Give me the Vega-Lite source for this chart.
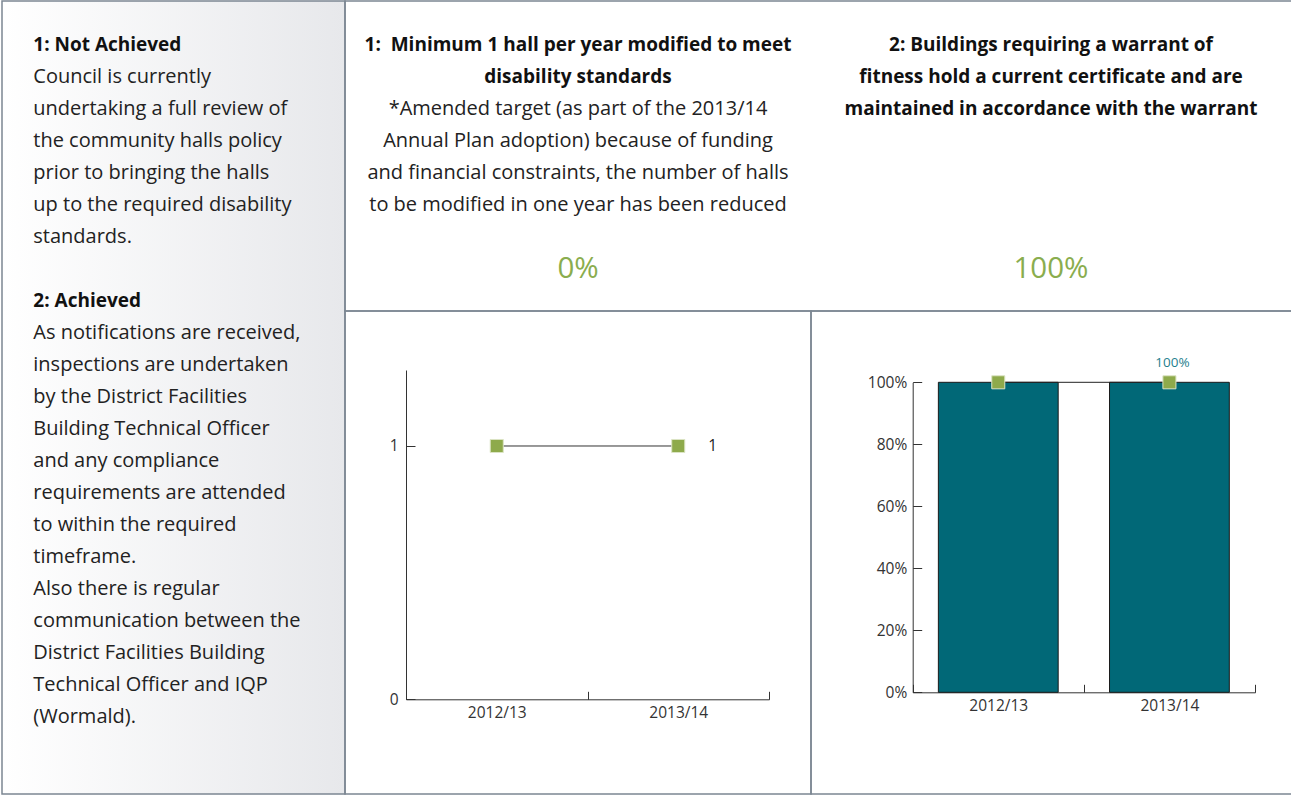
{
  "$schema": "https://vega.github.io/schema/vega-lite/v6.json",
  "background": "white",
  "padding": {"left": 1, "top": 0, "right": -2, "bottom": 1},
  "spacing": 0,
  "bounds": "flush",
  "config": {
    "view": {"stroke": "#7c8792", "strokeWidth": 1.5},
    "font": "Open Sans",
    "text": {"font": "Open Sans"},
    "axis": {
      "labelFont": "Open Sans", "labelFontSize": 15.5, "labelColor": "#333333",
      "domainColor": "#333333", "tickColor": "#333333", "domainWidth": 1, "tickWidth": 1,
      "grid": false, "title": null, "labelAngle": 0
    }
  },
  "hconcat": [
    {
      "width": 343,
      "height": 793,
      "view": {"fill": {"gradient": "linear", "x1": 0, "y1": 0, "x2": 1, "y2": 0, "stops": [{"offset": 0, "color": "#ffffff"}, {"offset": 1, "color": "#e7e8eb"}]}},
      "data": {"values": [
        {"line": 0, "kind": "heading", "text": "1: Not Achieved"},
        {"line": 1, "kind": "body", "text": "Council is currently"},
        {"line": 2, "kind": "body", "text": "undertaking a full review of"},
        {"line": 3, "kind": "body", "text": "the community halls policy"},
        {"line": 4, "kind": "body", "text": "prior to bringing the halls"},
        {"line": 5, "kind": "body", "text": "up to the required disability"},
        {"line": 6, "kind": "body", "text": "standards."},
        {"line": 8, "kind": "heading", "text": "2: Achieved"},
        {"line": 9, "kind": "body", "text": "As notifications are received,"},
        {"line": 10, "kind": "body", "text": "inspections are undertaken"},
        {"line": 11, "kind": "body", "text": "by the District Facilities"},
        {"line": 12, "kind": "body", "text": "Building Technical Officer"},
        {"line": 13, "kind": "body", "text": "and any compliance"},
        {"line": 14, "kind": "body", "text": "requirements are attended"},
        {"line": 15, "kind": "body", "text": "to within the required"},
        {"line": 16, "kind": "body", "text": "timeframe."},
        {"line": 17, "kind": "body", "text": "Also there is regular"},
        {"line": 18, "kind": "body", "text": "communication between the"},
        {"line": 19, "kind": "body", "text": "District Facilities Building"},
        {"line": 20, "kind": "body", "text": "Technical Officer and IQP"},
        {"line": 21, "kind": "body", "text": "(Wormald)."}
      ]},
      "encoding": {
        "y": {"field": "line", "type": "quantitative", "scale": {"domain": [0, 1], "range": [44, 76], "zero": false, "nice": false}, "axis": null},
        "text": {"field": "text"}
      },
      "layer": [
        {"transform": [{"filter": "datum.kind == 'heading'"}], "mark": {"type": "text", "align": "left", "baseline": "middle", "dx": -140.2, "fontSize": 19, "fontWeight": "bold", "color": "#111111"}},
        {"transform": [{"filter": "datum.kind == 'body'"}], "mark": {"type": "text", "align": "left", "baseline": "middle", "dx": -140.2, "fontSize": 20, "color": "#222222"}}
      ]
    },
    {
      "spacing": 0,
      "bounds": "flush",
      "vconcat": [
        {
          "width": 947,
          "height": 310,
          "data": {"values": [
            {"kpi": "1", "line": 0, "kind": "heading", "text": "1:\u00a0 Minimum 1 hall per year modified to meet"},
            {"kpi": "1", "line": 1, "kind": "heading", "text": "disability standards"},
            {"kpi": "1", "line": 2, "kind": "note", "text": "*Amended target (as part of the 2013/14"},
            {"kpi": "1", "line": 3, "kind": "note", "text": "Annual Plan adoption) because of funding"},
            {"kpi": "1", "line": 4, "kind": "note", "text": "and financial constraints, the number of halls"},
            {"kpi": "1", "line": 5, "kind": "note", "text": "to be modified in one year has been reduced"},
            {"kpi": "1", "line": 7, "kind": "result", "text": "0%"},
            {"kpi": "2", "line": 0, "kind": "heading", "text": "2: Buildings requiring a warrant of"},
            {"kpi": "2", "line": 1, "kind": "heading", "text": "fitness hold a current certificate and are"},
            {"kpi": "2", "line": 2, "kind": "heading", "text": "maintained in accordance with the warrant"},
            {"kpi": "2", "line": 7, "kind": "result", "text": "100%"}
          ]},
          "encoding": {
            "x": {"field": "kpi", "type": "nominal", "scale": {"domain": ["1", "2"], "range": [-3.5, 942.5], "paddingInner": 0, "paddingOuter": 0}, "axis": null},
            "y": {"field": "line", "type": "quantitative", "scale": {"domain": [0, 1], "range": [44, 76], "zero": false, "nice": false}, "axis": null},
            "text": {"field": "text"}
          },
          "layer": [
            {"transform": [{"filter": "datum.kind == 'heading'"}], "mark": {"type": "text", "align": "center", "baseline": "middle", "fontSize": 19, "fontWeight": "bold", "color": "#111111"}},
            {"transform": [{"filter": "datum.kind == 'note'"}], "mark": {"type": "text", "align": "center", "baseline": "middle", "fontSize": 20, "color": "#222222"}},
            {"transform": [{"filter": "datum.kind == 'result'"}], "mark": {"type": "text", "align": "center", "baseline": "middle", "fontSize": 29.5, "color": "#8aad4e"}}
          ]
        },
        {
          "spacing": 0,
          "bounds": "flush",
          "hconcat": [
            {
              "width": 466,
              "height": 483,
              "data": {"values": [
                {"year": "2012/13", "target": 1},
                {"year": "2013/14", "target": 1}
              ]},
              "encoding": {
                "x": {"field": "year", "type": "nominal", "sort": null,
                  "scale": {"range": [61, 424], "paddingInner": 0, "paddingOuter": 0},
                  "axis": {"orient": "bottom", "offset": -94.7, "tickBand": "extent", "tickSize": -8, "labelPadding": 14}},
                "y": {"field": "target", "type": "quantitative",
                  "scale": {"domain": [0, 1.3], "range": [388.3, 59], "nice": false, "zero": true},
                  "axis": {"orient": "left", "offset": -61, "values": [0, 1], "format": "d", "tickSize": -9, "labelPadding": 17}}
              },
              "layer": [
                {"mark": {"type": "line", "color": "#333333", "strokeWidth": 1}},
                {"mark": {"type": "point", "shape": "square", "filled": true, "size": 170, "fill": "#8eaa4b", "stroke": "#dbe4c4", "strokeWidth": 1, "opacity": 1}},
                {"transform": [{"filter": "datum.year == '2013/14'"}],
                  "mark": {"type": "text", "align": "left", "baseline": "middle", "dx": 30, "fontSize": 15.5, "color": "#222222"},
                  "encoding": {"text": {"field": "target", "type": "quantitative", "format": "d"}}}
              ]
            },
            {
              "width": 481,
              "height": 483,
              "data": {"values": [
                {"year": "2012/13", "actual": 1, "target": 1},
                {"year": "2013/14", "actual": 1, "target": 1}
              ]},
              "encoding": {
                "x": {"field": "year", "type": "nominal", "sort": null,
                  "scale": {"range": [101.7, 444], "paddingInner": 0, "paddingOuter": 0},
                  "axis": {"orient": "bottom", "offset": -101.7, "tickBand": "extent", "tickSize": -8, "labelPadding": 14}},
                "y": {"field": "actual", "type": "quantitative",
                  "scale": {"domain": [0, 1], "range": [381.3, 71.3], "nice": false},
                  "axis": {"orient": "left", "offset": -101.7, "values": [0, 0.2, 0.4, 0.6, 0.8, 1], "format": ".0%", "tickSize": -9, "labelPadding": 15}}
              },
              "layer": [
                {"mark": {"type": "bar", "width": {"band": 0.7}, "fill": "#016877", "stroke": "#1a1a1a", "strokeWidth": 1}},
                {"mark": {"type": "line", "color": "#222222", "strokeWidth": 1}, "encoding": {"y": {"field": "target", "type": "quantitative"}}},
                {"mark": {"type": "point", "shape": "square", "filled": true, "size": 170, "fill": "#8eaa4b", "stroke": "#dbe4c4", "strokeWidth": 1, "opacity": 1}, "encoding": {"y": {"field": "target", "type": "quantitative"}}},
                {"transform": [{"filter": "datum.year == '2013/14'"}],
                  "mark": {"type": "text", "align": "center", "baseline": "middle", "dx": 3, "dy": -19, "fontSize": 13.5, "color": "#1f7f8e"},
                  "encoding": {"text": {"field": "actual", "type": "quantitative", "format": ".0%"}}}
              ]
            }
          ]
        }
      ]
    }
  ]
}
